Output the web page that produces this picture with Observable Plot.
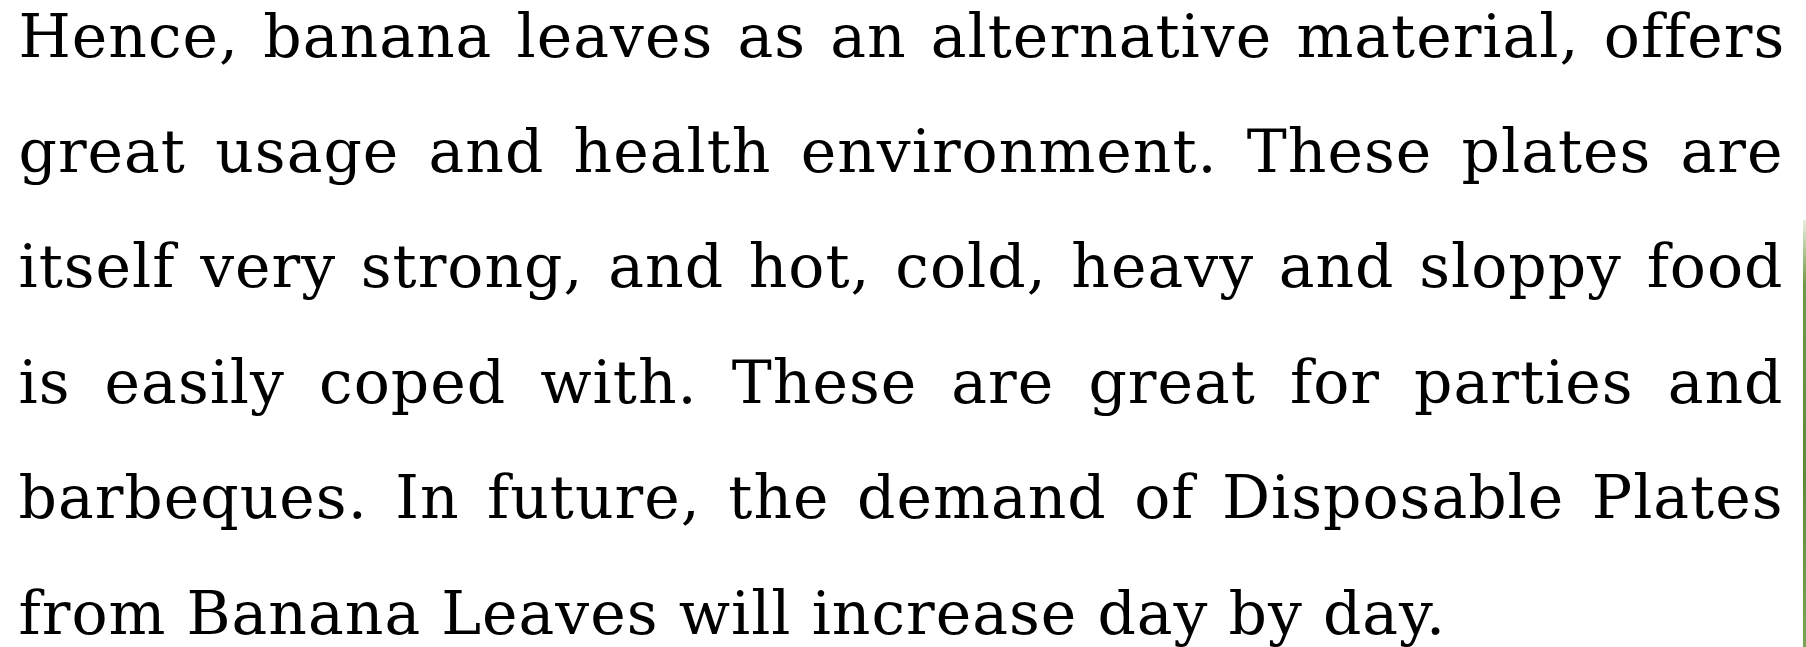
<!DOCTYPE html>
<html>
<head>
<meta charset="utf-8">
<script src="https://cdn.jsdelivr.net/npm/d3@7"></script>
<script src="https://cdn.jsdelivr.net/npm/@observablehq/plot@0.6"></script>
<style>
  html, body { margin: 0; padding: 0; background: #fff; }
  #wrap { position: relative; width: 1806px; height: 647px; overflow: hidden; }
  #edge { position: absolute; right: 0; top: 220px; width: 3px; height: 427px;
          background: linear-gradient(to bottom, #e8f0e0, #6f9a45 15%, #5f8a35 60%, #79a455); }
</style>
</head>
<body>
<div id="wrap"><div id="edge"></div></div>
<script>
// Paragraph lines (justified, last line ragged)
const lines = [
  "Hence, banana leaves as an alternative material, offers",
  "great usage and health environment. These plates are",
  "itself very strong, and hot, cold, heavy and sloppy food",
  "is easily coped with. These are great for parties and",
  "barbeques. In future, the demand of Disposable Plates",
  "from Banana Leaves will increase day by day."
];
const justified = [true, true, true, true, true, false];

const fontFamily = '"DejaVu Serif", serif';
const fontSize = 60;
const letterSpacing = 1;
const left = 18, right = 1782;

const ctx = document.createElement("canvas").getContext("2d");
ctx.font = `${fontSize}px ${fontFamily}`;
const measure = s => ctx.measureText(s).width + s.length * letterSpacing;
const space = measure(" ");

const words = [];
lines.forEach((line, i) => {
  const ws = line.split(" ");
  const widths = ws.map(measure);
  const total = d3.sum(widths) - letterSpacing;
  const gap = justified[i] && ws.length > 1 ? (right - left - total) / (ws.length - 1) : space;
  let x = left;
  ws.forEach((w, j) => {
    words.push({line: i, word: w, x});
    x += widths[j] + gap;
  });
});

const chart = Plot.plot({
  width: 1806,
  height: 647,
  margin: 0,
  x: {type: "identity", axis: null},
  y: {domain: [0, lines.length - 1], range: [56, 633], axis: null},
  marks: [
    Plot.text(words, {
      x: "x", y: "line", text: "word",
      textAnchor: "start", lineAnchor: "bottom",
      fontSize, fontFamily, fill: "#000"
    })
  ]
});
chart.style.fontFamily = fontFamily;
chart.style.letterSpacing = letterSpacing + "px";
document.getElementById("wrap").prepend(chart);
</script>
</body>
</html>
